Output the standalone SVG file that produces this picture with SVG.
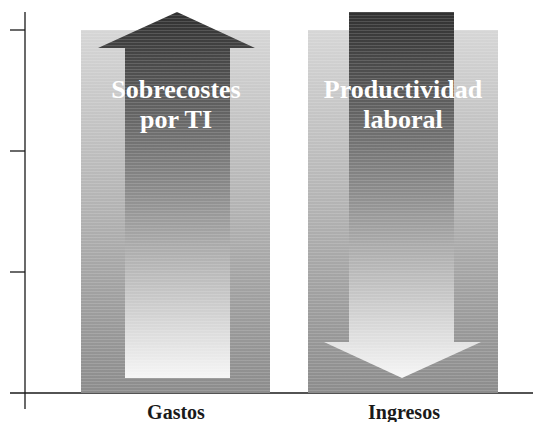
<svg xmlns="http://www.w3.org/2000/svg" width="533" height="422" viewBox="0 0 533 422">
  <style>
    .axis { stroke: #1a1a1a; stroke-width: 1.3; fill: none; }
    .lbl { font-family: "Liberation Serif", "Times New Roman", serif; font-weight: bold; text-anchor: middle; }
    .big { font-size: 26px; fill: #ffffff; }
    .cat { font-size: 20px; fill: #1a1a1a; }
  </style>
  <defs>
    <linearGradient id="barGrad" gradientUnits="userSpaceOnUse" x1="0" y1="30" x2="0" y2="393">
      <stop offset="0" stop-color="#d6d6d6"/>
      <stop offset="0.5" stop-color="#b2b2b2"/>
      <stop offset="1" stop-color="#8c8c8c"/>
    </linearGradient>
    <linearGradient id="arrowGrad" gradientUnits="userSpaceOnUse" x1="0" y1="12" x2="0" y2="378">
      <stop offset="0" stop-color="#303030"/>
      <stop offset="0.5" stop-color="#8e8e8e"/>
      <stop offset="1" stop-color="#f6f6f6"/>
    </linearGradient>
    <pattern id="stripes" patternUnits="userSpaceOnUse" width="8" height="3">
      <rect x="0" y="0" width="8" height="1" fill="#ffffff" fill-opacity="0.14"/>
    </pattern>
  </defs>

  <g id="axes">
    <line class="axis" x1="25" y1="12" x2="25" y2="409"/>
    <line class="axis" x1="10" y1="393" x2="533" y2="393"/>
    <line class="axis" x1="10" y1="30" x2="25" y2="30"/>
    <line class="axis" x1="10" y1="151" x2="25" y2="151"/>
    <line class="axis" x1="10" y1="272" x2="25" y2="272"/>
  </g>

  <g id="gastos">
    <rect x="81" y="30" width="189" height="363" fill="url(#barGrad)"/>
    <rect x="81" y="30" width="189" height="363" fill="url(#stripes)"/>
    <path d="M177,12 L255,48 L230,48 L230,378 L125,378 L125,48 L98,48 Z" fill="url(#arrowGrad)"/>
    <path d="M177,12 L255,48 L230,48 L230,378 L125,378 L125,48 L98,48 Z" fill="url(#stripes)"/>
    <text class="lbl big" x="176" y="98">Sobrecostes</text>
    <text class="lbl big" x="176" y="128">por TI</text>
    <text class="lbl cat" x="176" y="419">Gastos</text>
  </g>

  <g id="ingresos">
    <rect x="308" y="30" width="190" height="363" fill="url(#barGrad)"/>
    <rect x="308" y="30" width="190" height="363" fill="url(#stripes)"/>
    <path d="M349,12 L454,12 L454,342 L481,342 L402,378 L324,342 L349,342 Z" fill="url(#arrowGrad)"/>
    <path d="M349,12 L454,12 L454,342 L481,342 L402,378 L324,342 L349,342 Z" fill="url(#stripes)"/>
    <text class="lbl big" x="403" y="98">Productividad</text>
    <text class="lbl big" x="403" y="128">laboral</text>
    <text class="lbl cat" x="404" y="419">Ingresos</text>
  </g>
</svg>
